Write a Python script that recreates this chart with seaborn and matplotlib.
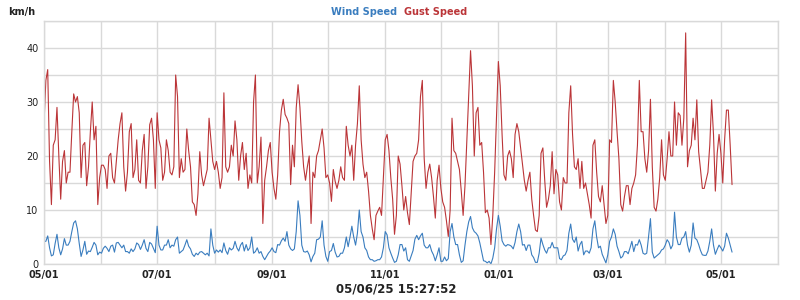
import pandas as pd
import matplotlib
matplotlib.use("Agg")
import matplotlib.pyplot as plt
import matplotlib.dates as mdates
import seaborn as sns

# ===================== Data (daily values, km/h) =====================
start_date = "2024-05-01"

gust_speed = [
    26, 34, 36, 19, 11, 22, 23, 29, 20, 12,
    19, 21, 15, 17, 17, 24.5, 31.5, 30, 31, 28,
    16, 22, 22.5, 14.5, 18, 24.5, 30, 23, 25.5, 11,
    16, 18.3, 18.3, 17.5, 14, 20, 20.5, 16, 15, 19,
    23, 26, 28, 18, 13.5, 17, 24.5, 26, 16, 17.5,
    23, 15.5, 15, 21, 24, 14, 18, 25.8, 27, 23,
    14, 28, 23, 21.5, 15.5, 17, 23, 21, 17, 16.5,
    18, 35, 31, 16, 19.5, 17, 17.5, 25, 21, 18,
    11.5, 11, 9, 13, 20.8, 16.5, 14.5, 16, 17.5, 27,
    23, 19, 17.5, 19, 17, 14, 16, 31.7, 18, 17,
    18, 22, 20, 26.5, 23, 15.5, 20, 22.5, 17.5, 20.5,
    14, 16.5, 15, 30, 35, 15, 18, 23.5, 7.5, 15.5,
    18, 21, 22.5, 17, 14, 12, 16.5, 24.5, 28.5, 30.5,
    27.7, 27, 26, 14.7, 22, 18, 28.9, 33.2, 29, 22.7,
    18, 15.5, 18, 20, 7.5, 17, 16, 20, 21, 23,
    25, 21.5, 16, 16.5, 15, 11.6, 17.5, 15.3, 14, 15.5,
    18, 16, 15.5, 25.5, 22, 20, 22, 15.5, 22, 26,
    33, 23, 18.5, 16, 17, 13.5, 9, 6.5, 4.5, 9,
    9.8, 10.5, 9, 16, 23, 24, 21, 16, 12, 5.5,
    9, 20, 18.5, 14.5, 10, 12.5, 9.5, 7.3, 13, 19,
    20, 20.5, 23, 31, 34, 19.6, 14, 17, 18.5, 16,
    12.5, 8.5, 15.5, 18.3, 14, 11.5, 10.5, 8, 5.1, 10,
    27, 21, 20.5, 19, 17.5, 13.5, 9, 14.5, 23, 31,
    39.5, 33, 20, 28, 29, 22, 22.5, 17, 9.5, 10,
    8.5, 3.6, 9, 17, 27, 37.5, 33, 24, 16.5, 15.5,
    20, 21, 19.5, 16, 24, 26, 24.5, 21.5, 18.5, 15.5,
    13.5, 15.5, 17, 12, 9, 6.3, 6, 9, 20.5, 21.5,
    15.5, 10.5, 12, 14.5, 20.8, 13, 17.5, 16.5, 11.5, 10,
    16, 15, 15, 28, 33, 24, 18, 17.5, 19.5, 14,
    19, 14, 15, 13, 11, 8.5, 22, 23, 17, 12.5,
    11.5, 14.5, 11, 7.5, 9, 23, 22.5, 34, 30, 24.5,
    19.5, 11, 9.8, 12.5, 14.5, 14.5, 11, 14, 15, 16.5,
    22, 34, 24.5, 24.5, 19.5, 17, 21, 30.5, 18, 10.5,
    9.8, 12, 16, 23, 16.5, 15.5, 19.5, 24.5, 20, 20,
    30, 22, 28, 27.5, 22, 27, 42.8, 18, 21, 22,
    27, 23, 30.4, 20.8, 17.5, 14, 14, 15.5, 17, 22,
    30.4, 24, 13.5, 20.5, 24, 20.5, 15, 23, 28.5, 28.5,
    22, 14.7,
]

wind_speed = [
    4.2, 4.2, 5.2, 3, 1.5, 1.7, 3.8, 5.5, 3, 1.7,
    2.8, 4.7, 3.5, 3.5, 4.2, 6, 7.6, 8, 6.5, 3.8,
    1.4, 2.6, 4.2, 1.8, 2.4, 2.3, 3.1, 4.0, 3.5, 1.7,
    2.2, 2.0, 2.9, 3.3, 2.9, 2.3, 3.3, 3.5, 2.2, 3.9,
    4.0, 3.5, 3.0, 3.5, 2.3, 2.3, 2.0, 2.8, 2.3, 2.8,
    3.9, 3.6, 2.7, 3.5, 4.5, 2.9, 2.3, 4.0, 3.7, 2.9,
    2.1, 7, 3.5, 2.6, 2.6, 3.5, 3.5, 4.5, 3, 3.5,
    3.3, 4.5, 5, 2, 2.3, 2.6, 3.5, 4.5, 3.3, 2.8,
    1.8, 1.4, 2, 1.7, 2.2, 2.3, 2.0, 1.7, 2, 1.5,
    6.5, 3.5, 2, 2.6, 2.2, 2.6, 2.1, 3.9, 2.5, 1.8,
    3, 2.6, 2.9, 4.2, 3, 2.4, 3.5, 4, 2.4, 3.6,
    2.5, 3, 5, 2, 2.3, 3, 2, 2.3, 1.4, 0.8,
    1.4, 2, 2.4, 3, 2.3, 2.1, 3.6, 3.5, 4.3, 4.8,
    4.2, 6, 3.5, 2.8, 2.5, 2.8, 6, 11.7, 9, 3.5,
    2.3, 2.2, 2.4, 1.7, 0.4, 1.4, 2, 4.5, 4.6, 5,
    8, 3.5, 1.4, 0.5, 2.3, 2.5, 3.8, 2.2, 1.3, 1.4,
    2, 2, 3, 5, 3.2, 5, 7, 5, 3.5, 5.7,
    10, 6, 5, 3, 2.5, 1.3, 0.8, 0.8, 0.5, 0.6,
    0.8, 0.8, 1.3, 3, 6, 5.4, 3, 2, 1.1, 0.3,
    0.5, 1.7, 3.6, 3.6, 2.4, 3, 0.8, 0.5, 1.5, 2.5,
    4.6, 5.3, 4.5, 5.2, 5.7, 3.5, 3, 3, 3.6, 2.4,
    1.7, 0.6, 1.7, 3, 0.5, 0.5, 1.3, 0.6, 1, 6,
    7.5, 5, 3.6, 3.6, 1.7, 0.3, 0.6, 3.5, 6, 7.8,
    8.8, 6.7, 6, 5.7, 5.2, 3.9, 2.2, 0.6, 0.5, 0.2,
    0.5, 0, 1.1, 3, 6.5, 9, 7, 4.3, 3.6, 3.3,
    3.6, 3.5, 3.3, 2.8, 4, 6, 7.4, 6, 3.5, 3.6,
    2.5, 3.5, 3.5, 1.7, 1.2, 0.3, 0.3, 2, 4.8, 3.6,
    2.6, 2, 3, 3, 4, 3, 3, 3, 1, 0.8,
    1.5, 1.7, 2.5, 5.7, 7.4, 4.6, 4, 5, 2.4, 3.6,
    4.2, 1.7, 2.4, 2.4, 2, 3, 6.5, 8, 5, 3,
    3.3, 1.8, 1, 0.2, 1.7, 4.2, 5, 6.5, 5.5, 3.3,
    2.3, 1.1, 1.4, 2.3, 2.3, 1.9, 3, 4.2, 2.3, 3.6,
    3.5, 4.5, 3.5, 2, 1.8, 2, 5.1, 8.4, 2.2, 1.1,
    1.4, 1.7, 2, 2.6, 2.8, 3.5, 4.5, 4, 2.8, 3.5,
    9.6, 5, 3.6, 3.6, 4.8, 5, 6, 3.5, 2.2, 3.5,
    7.6, 4.8, 4.5, 3.6, 2.5, 1.7, 1.6, 1.6, 2.4, 4.2,
    6.5, 3.5, 1.8, 2.7, 3.5, 3, 2.4, 3.3, 5.7, 4.8,
    3.5, 2.2,
]

series_names = ["Wind Speed", "Gust Speed"]
series_colors = ["#3a7dbf", "#bb3538"]
y_ticks = [0, 10, 20, 30, 40]
timestamp_label = "05/06/25 15:27:52"

dates = pd.date_range(start_date, periods=len(gust_speed), freq="D")
df = pd.DataFrame({
    "date": list(dates) * 2,
    "speed": wind_speed + gust_speed,
    "series": [series_names[0]] * len(wind_speed) + [series_names[1]] * len(gust_speed),
})

# ===================== Plot =====================
sns.set_style("white")
plt.rcParams["font.family"] = ["DejaVu Sans"]

fig = plt.figure(figsize=(8, 3), dpi=100)
ax = fig.add_axes([0.055, 0.12, 0.918, 0.81])

sns.lineplot(data=df, x="date", y="speed", hue="series",
             palette=dict(zip(series_names, series_colors)),
             linewidth=0.8, legend=False, ax=ax)

ax.set_xlim(pd.Timestamp("2024-05-01"), pd.Timestamp("2025-06-01"))
ax.set_ylim(0, 45)
ax.set_yticks(range(0, 46, 5))
ax.set_yticklabels([str(v) if v in y_ticks else "" for v in range(0, 46, 5)])

ax.xaxis.set_major_locator(mdates.MonthLocator(bymonth=[1, 3, 5, 7, 9, 11]))
ax.xaxis.set_major_formatter(mdates.DateFormatter("%m/%d"))
ax.xaxis.set_minor_locator(mdates.MonthLocator())
ax.grid(True, which="both", axis="x", color="#d9d9d9", linewidth=1)
ax.grid(True, which="major", axis="y", color="#d9d9d9", linewidth=1)
ax.set_axisbelow(True)

for spine in ax.spines.values():
    spine.set_color("#d9d9d9")
    spine.set_linewidth(1)

ax.tick_params(axis="both", which="both", length=0, labelsize=7, colors="#222222", pad=4)
for lbl in ax.get_xticklabels():
    lbl.set_fontweight("bold")
ax.set_xlabel("")
ax.set_ylabel("")

# ===================== Header / footer texts =====================
fig.text(0.01, 0.978, "km/h", fontsize=7, fontweight="bold", va="top", ha="left", color="#222222")
fig.text(0.497, 0.978, series_names[0], fontsize=7, fontweight="bold", va="top", ha="right",
         color=series_colors[0])
fig.text(0.505, 0.978, series_names[1], fontsize=7, fontweight="bold", va="top", ha="left",
         color=series_colors[1])
fig.text(0.495, 0.035, timestamp_label, fontsize=8.5, fontweight="bold", ha="center", va="center",
         color="#222222")

fig.savefig("out.png", dpi=100)
